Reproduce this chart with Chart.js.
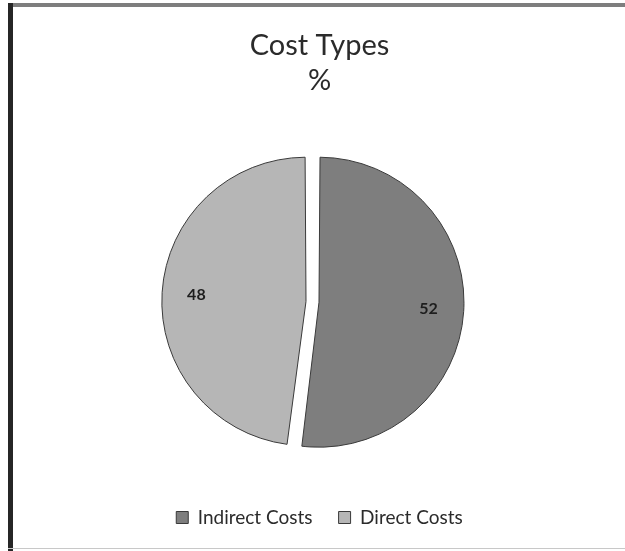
<!DOCTYPE html>
<html>
<head>
<meta charset="utf-8">
<script src="https://cdn.jsdelivr.net/npm/chart.js@4.4.0/dist/chart.umd.min.js"></script>
<style>
  html, body { margin: 0; padding: 0; background: #fff; }
  #wrap { position: relative; width: 625px; height: 551px; overflow: hidden; }
  canvas { position: absolute; left: 0; top: 0; }
  .frame-top { position: absolute; left: 8px; top: 3px; width: 617px; height: 4px; background: #7e7e7e; }
  .frame-left { position: absolute; left: 8px; top: 3px; width: 5px; height: 548px; background: #262626; }
  .frame-bottom { position: absolute; left: 8px; top: 548px; width: 617px; height: 1px; background: #c8c8c8; }
</style>
</head>
<body>
<div id="wrap">
  <canvas id="c" width="625" height="551"></canvas>
  <div class="frame-top"></div>
  <div class="frame-left"></div>
  <div class="frame-bottom"></div>
</div>
<script>
const categories = ["Indirect Costs", "Direct Costs"];
const values = [52, 48];
const titleLines = ["Cost Types", "%"];
const sliceColors = ["#7e7e7e", "#b6b6b6"];

const sliceLabels = {
  id: 'sliceLabels',
  afterDatasetsDraw(chart) {
    const ctx = chart.ctx;
    const meta = chart.getDatasetMeta(0);
    const data = chart.data.datasets[0].data;
    ctx.save();
    ctx.font = 'bold 16px "Lato", "DejaVu Sans", sans-serif';
    ctx.fillStyle = '#1e1e1e';
    ctx.textAlign = 'center';
    ctx.textBaseline = 'middle';
    meta.data.forEach((arc, i) => {
      const p = arc.getProps(['x', 'y', 'startAngle', 'endAngle', 'outerRadius']);
      const mid = (p.startAngle + p.endAngle) / 2;
      const r = p.outerRadius * 0.84;
      ctx.fillText(String(data[i]), p.x + Math.cos(mid) * r, p.y + Math.sin(mid) * r);
    });
    ctx.restore();
  }
};

// shift the plot area slightly left of the title/legend centre, as in the original
const shiftArea = {
  id: 'shiftArea',
  afterLayout(chart) {
    chart.chartArea.left -= 7;
    chart.chartArea.right -= 7;
  }
};

new Chart(document.getElementById('c'), {
  type: 'pie',
  data: {
    labels: categories,
    datasets: [{
      data: values,
      backgroundColor: sliceColors,
      borderColor: '#3a3a3a',
      borderWidth: 1,
      offset: 26,
      hoverOffset: 0,
      radius: 138.5
    }]
  },
  options: {
    responsive: false,
    animation: false,
    rotation: 0,
    layout: { padding: { left: 14, right: 0, top: 0, bottom: 14 } },
    plugins: {
      title: {
        display: true,
        text: titleLines,
        color: '#2b2b2b',
        font: { family: '"Lato", "Open Sans", sans-serif', size: 29, weight: 'normal', lineHeight: 1.2 },
        padding: { top: 28, bottom: 24 }
      },
      legend: {
        display: true,
        position: 'bottom',
        labels: {
          color: '#2b2b2b',
          font: { family: '"Lato", "Open Sans", sans-serif', size: 19 },
          boxWidth: 12,
          boxHeight: 12,
          padding: 26
        }
      },
      tooltip: { enabled: false }
    }
  },
  plugins: [sliceLabels, shiftArea]
});
</script>
</body>
</html>
